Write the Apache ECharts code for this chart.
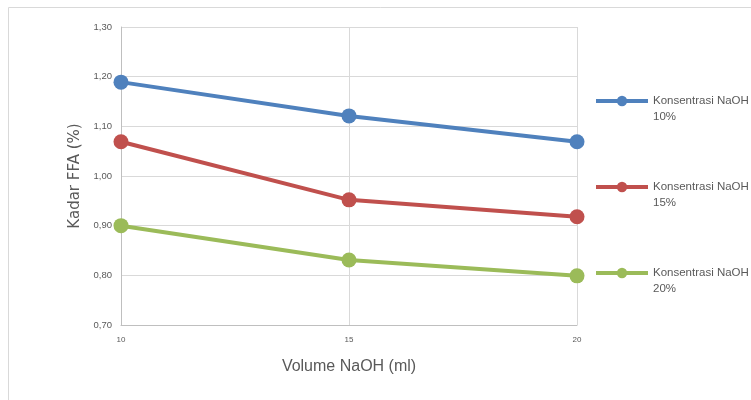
<!DOCTYPE html>
<html>
<head>
<meta charset="utf-8">
<script src="https://cdn.jsdelivr.net/npm/echarts@6/dist/echarts.min.js"></script>
<style>
  html, body { margin: 0; padding: 0; background: #fff; }
  #chart { width: 751px; height: 400px; }
</style>
</head>
<body>
<div id="chart"></div>
<script>
// data
const volume = [10, 15, 20];
const naoh10 = [1.189, 1.121, 1.069];
const naoh15 = [1.069, 0.952, 0.918];
const naoh20 = [0.900, 0.831, 0.799];
const seriesNames = ['Konsentrasi NaOH 10%', 'Konsentrasi NaOH 15%', 'Konsentrasi NaOH 20%'];
const colors = ['#4f81bd', '#c0504d', '#9bbb59'];

const chart = echarts.init(document.getElementById('chart'));

function mkSeries(name, vals, color) {
  return {
    type: 'line',
    name: name,
    data: volume.map((x, i) => [x, vals[i]]),
    symbol: 'circle',
    symbolSize: 15,
    color: color,
    lineStyle: { width: 4, color: color },
    itemStyle: { color: color },
    animation: false
  };
}

chart.setOption({
  animation: false,
  graphic: [{
    type: 'rect',
    shape: { x: 8.5, y: 7.5, width: 800, height: 450 },
    style: { fill: 'none', stroke: '#d9d9d9', lineWidth: 1 },
    silent: true,
    z: -1
  }],
  grid: { left: 121, right: 174, top: 27, bottom: 75 },
  legend: {
    orient: 'vertical',
    left: 594,
    top: 77,
    padding: 0,
    itemWidth: 52,
    itemHeight: 13,
    itemGap: 38,
    lineStyle: { width: 4 },
    // empty first line keeps the marker level with the first text line
    formatter: name => '\n' + name.replace(/NaOH /, 'NaOH\n'),
    textStyle: {
      fontFamily: 'Liberation Sans',
      fontSize: 11.5,
      color: '#595959',
      lineHeight: 16
    },
    data: seriesNames
  },
  xAxis: {
    type: 'value',
    min: 10,
    max: 20,
    interval: 5,
    name: 'Volume NaOH (ml)',
    nameLocation: 'middle',
    nameGap: 34,
    nameTextStyle: { fontFamily: 'Liberation Sans', fontSize: 16, color: '#595959' },
    axisLine: { lineStyle: { color: '#bfbfbf', width: 1 } },
    axisTick: { show: false },
    axisLabel: { fontFamily: 'Liberation Sans', fontSize: 8, color: '#595959', margin: 11 },
    splitLine: { show: true, lineStyle: { color: '#d9d9d9', width: 1 } }
  },
  yAxis: {
    type: 'value',
    min: 0.7,
    max: 1.3,
    interval: 0.1,
    name: 'Kadar FFA (%)',
    nameLocation: 'middle',
    nameGap: 37,
    nameTextStyle: { fontFamily: 'DejaVu Sans', fontSize: 15, color: '#595959' },
    axisLine: { show: true, lineStyle: { color: '#bfbfbf', width: 1 } },
    axisTick: { show: false },
    axisLabel: {
      fontFamily: 'Liberation Sans',
      fontSize: 9.5,
      color: '#595959',
      margin: 9,
      formatter: v => v.toFixed(2).replace('.', ',')
    },
    splitLine: { show: true, lineStyle: { color: '#d9d9d9', width: 1 } }
  },
  series: [
    mkSeries(seriesNames[0], naoh10, colors[0]),
    mkSeries(seriesNames[1], naoh15, colors[1]),
    mkSeries(seriesNames[2], naoh20, colors[2])
  ]
});
</script>
</body>
</html>
